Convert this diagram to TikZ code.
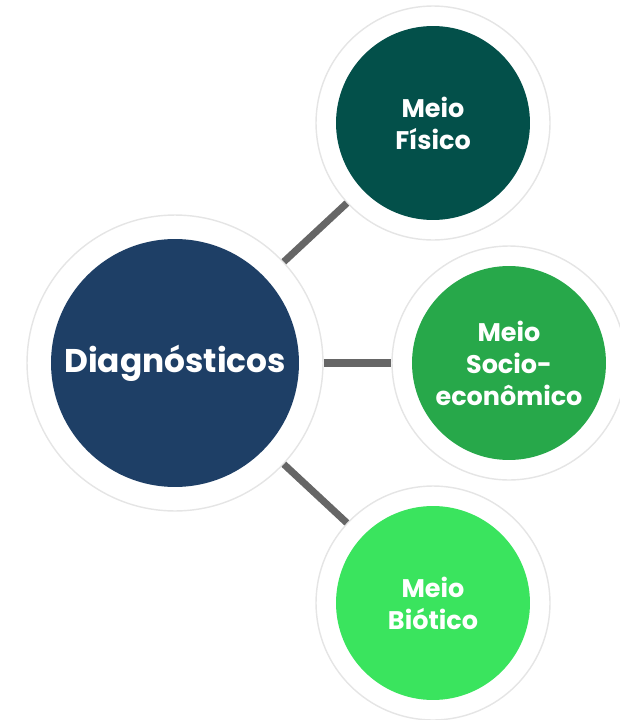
\documentclass[tikz,border=0pt]{standalone}
\usepackage{fontspec}
\setmainfont{Poppins}
\usetikzlibrary{positioning}
\definecolor{cdiag}{HTML}{1E3F66}
\definecolor{cfisico}{HTML}{03504A}
\definecolor{csocio}{HTML}{27A84A}
\definecolor{cbiotico}{HTML}{3AE45E}

\begin{document}
\begin{tikzpicture}[x=0.02cm,y=-0.02cm]
%% styles
\tikzstyle{ring}=[circle,fill=white,draw=black!10,line width=0.8pt,inner sep=0pt]
\tikzstyle{hub}=[circle,inner sep=0pt,text=white,align=center]
\tikzstyle{link}=[line width=4pt,draw=black!60]

\useasboundingbox (0,0) rectangle (619,720);

%% nodes
% white rings
\node[ring,minimum size=5.92cm] (R-diag) at (175,363) {};
\foreach \name/\x/\y in {fisico/433/123,socio/509/363,biotico/433/603}
\node[ring,minimum size=4.68cm] (R-\name) at (\x,\y) {};
% coloured discs
\node[hub,fill=cdiag,minimum size=4.96cm,font=\fontsize{18.7}{22}\selectfont\bfseries] (diag) at (R-diag) {Diagnósticos};
\foreach \name/\txt in {fisico/Meio\\Físico,socio/Meio\\Socio-\\econômico,biotico/Meio\\Biótico}
\node[hub,fill=c\name,minimum size=3.88cm,font=\fontsize{14.5}{18.2}\selectfont\bfseries] (\name) at (R-\name) {\txt};

%% links
\foreach \to in {fisico,socio,biotico}
\draw[link] (R-diag) -- (R-\to);
\end{tikzpicture}
\end{document}
